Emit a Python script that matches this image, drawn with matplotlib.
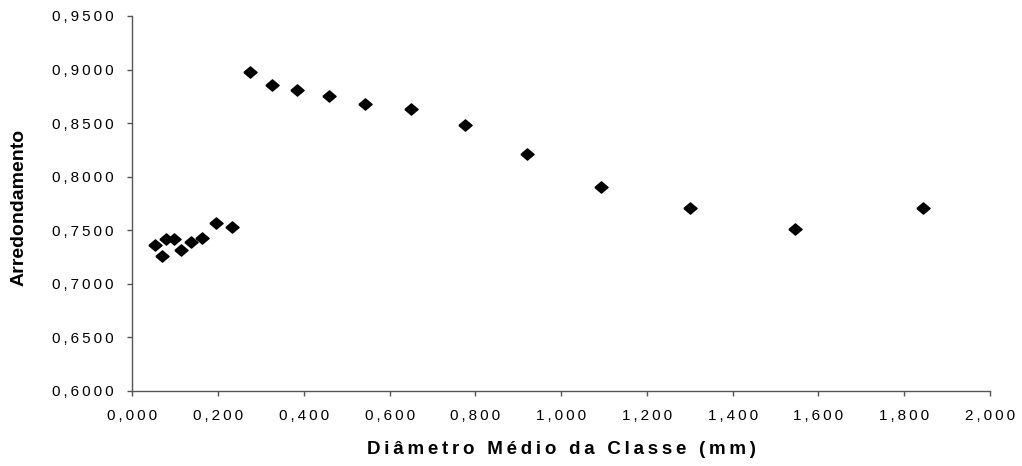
import numpy as np
import matplotlib
matplotlib.use('Agg')
import matplotlib.pyplot as plt
from matplotlib.ticker import FuncFormatter

plt.rcParams['font.family'] = ['Liberation Sans', 'DejaVu Sans']

# diametro medio da classe (mm)
diametro = [0.053, 0.0685, 0.0786, 0.098, 0.1135, 0.137, 0.162, 0.195, 0.232,
            0.274, 0.325, 0.385, 0.459, 0.543, 0.649, 0.776, 0.920,
            1.094, 1.300, 1.545, 1.843]
# arredondamento
arred = [0.7361, 0.7258, 0.7417, 0.7417, 0.7314, 0.7392, 0.7429, 0.7564, 0.7526,
         0.8974, 0.8858, 0.8811, 0.8753, 0.8678, 0.8628, 0.8479, 0.8208,
         0.7905, 0.7709, 0.7513, 0.7709]

xticks = np.arange(0, 2.001, 0.2)
yticks = np.arange(0.6, 0.9501, 0.05)
xlabel = 'Diâmetro Médio da Classe (mm)'
ylabel = 'Arredondamento'

SP = '\u2009'  # espaco fino, imita o espacamento largo do Excel

def spaced(s):
    return SP.join(s)

# diamante um pouco achatado
diamond = [(-1, 0), (0, 0.85), (1, 0), (0, -0.85), (-1, 0)]

fig = plt.figure(figsize=(10.22, 4.66), dpi=100)
ax = fig.add_axes([0.1295, 0.1616, 0.8392, 0.8041])

ax.plot(diametro, arred, linestyle='none', marker=diamond, markersize=9.5,
        color='black', clip_on=False)

ax.set_xlim(0, 2.0)
ax.set_ylim(0.6, 0.95)
ax.set_xticks(xticks)
ax.set_yticks(yticks)
ax.xaxis.set_major_formatter(FuncFormatter(lambda v, p: spaced(('%.3f' % v).replace('.', ','))))
ax.yaxis.set_major_formatter(FuncFormatter(lambda v, p: spaced(('%.4f' % v).replace('.', ','))))

for s in ['top', 'right']:
    ax.spines[s].set_visible(False)
for s in ['left', 'bottom']:
    ax.spines[s].set_color('#555555')
    ax.spines[s].set_linewidth(1.0)

ax.tick_params(axis='both', direction='out', length=3.5, width=1, color='#555555',
               labelsize=11)
ax.tick_params(axis='x', pad=10)
ax.tick_params(axis='y', pad=10)

ax.set_xlabel(spaced(xlabel), fontsize=13.5, fontweight='bold', va='center')
ax.set_ylabel(ylabel, fontsize=14, fontweight='bold', va='center')
ax.xaxis.set_label_coords(0.5, -0.158)
ax.yaxis.set_label_coords(-0.132, 0.49)

fig.savefig('out.png', dpi=100)
